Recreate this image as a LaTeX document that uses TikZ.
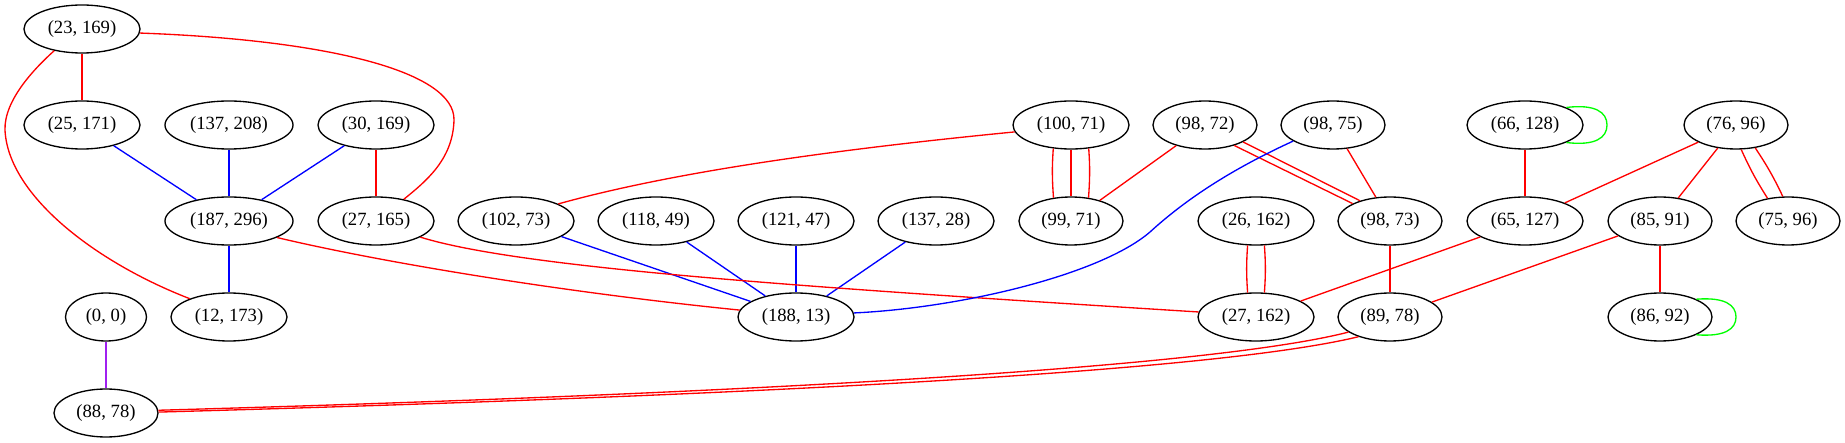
\documentclass[tikz,border=0pt]{standalone}
\usepackage{fontspec}
\setmainfont{Liberation Serif}
\usetikzlibrary{shapes.geometric}
\definecolor{gvred}{RGB}{255,0,0}
\definecolor{gvblue}{RGB}{0,0,255}
\definecolor{gvgreen}{RGB}{0,255,0}
\definecolor{gvpurple}{RGB}{160,32,240}
\begin{document}
\begin{tikzpicture}[x=1pt,y=-1pt,
  nd/.style={draw=black,line width=1.33pt,ellipse,inner sep=0pt,minimum height=48pt,font=\fontsize{18.67}{22}\selectfont},
  wA/.style={nd,minimum width=116pt},
  wB/.style={nd,minimum width=128pt},
  wC/.style={nd,minimum width=104pt},
  wD/.style={nd,minimum width=81pt},
  re/.style={draw=gvred,line width=1.33pt},
  be/.style={draw=gvblue,line width=1.33pt},
  ge/.style={draw=gvgreen,line width=1.33pt},
  pe/.style={draw=gvpurple,line width=1.33pt}]
\useasboundingbox (0,0) rectangle (1845,443);
% nodes
\node[wA] (p23x169) at (82,29) {(23, 169)};
\node[wA] (p25x171) at (82,125) {(25, 171)};
\node[wB] (p137x208) at (229,125) {(137, 208)};
\node[wA] (p30x169) at (376,125) {(30, 169)};
\node[wB] (p187x296) at (229,221) {(187, 296)};
\node[wA] (p27x165) at (376,221) {(27, 165)};
\node[wD] (p0x0) at (106,317) {(0, 0)};
\node[wA] (p12x173) at (229,317) {(12, 173)};
\node[wC] (p88x78) at (106,413) {(88, 78)};
\node[wA] (p102x73) at (516,221) {(102, 73)};
\node[wA] (p118x49) at (656,221) {(118, 49)};
\node[wA] (p121x47) at (796,221) {(121, 47)};
\node[wA] (p137x28) at (936,221) {(137, 28)};
\node[wA] (p188x13) at (796,317) {(188, 13)};
\node[wA] (p100x71) at (1071,125) {(100, 71)};
\node[wC] (p98x72) at (1205,125) {(98, 72)};
\node[wC] (p98x75) at (1333,125) {(98, 75)};
\node[wC] (p99x71) at (1071,221) {(99, 71)};
\node[wA] (p26x162) at (1256,221) {(26, 162)};
\node[wC] (p98x73) at (1390,221) {(98, 73)};
\node[wA] (p27x162) at (1256,317) {(27, 162)};
\node[wC] (p89x78) at (1390,317) {(89, 78)};
\node[wA] (p66x128) at (1525,125) {(66, 128)};
\node[wC] (p76x96) at (1736,125) {(76, 96)};
\node[wA] (p65x127) at (1525,221) {(65, 127)};
\node[wC] (p85x91) at (1660,221) {(85, 91)};
\node[wC] (p75x96) at (1788,221) {(75, 96)};
\node[wC] (p86x92) at (1660,317) {(86, 92)};
% straight edges
\draw[re] (p23x169) -- (p25x171);
\draw[be] (p25x171) -- (p187x296);
\draw[be] (p137x208) -- (p187x296);
\draw[be] (p30x169) -- (p187x296);
\draw[re] (p30x169) -- (p27x165);
\draw[be] (p187x296) -- (p12x173);
\draw[pe] (p0x0) -- (p88x78);
\draw[be] (p102x73) -- (p188x13);
\draw[be] (p118x49) -- (p188x13);
\draw[be] (p121x47) -- (p188x13);
\draw[be] (p137x28) -- (p188x13);
\draw[re] (p98x72) -- (p99x71);
\draw[re] (p98x75) -- (p98x73);
\draw[re] (p98x73) -- (p89x78);
\draw[re] (p66x128) -- (p65x127);
\draw[re] (p76x96) -- (p65x127);
\draw[re] (p76x96) -- (p85x91);
\draw[re] (p65x127) -- (p27x162);
\draw[re] (p85x91) -- (p89x78);
\draw[re] (p85x91) -- (p86x92);
% multi edges
\draw[re] (p100x71.233) to[out=266,in=94] (p99x71.127);
\draw[re] (p100x71) -- (p99x71);
\draw[re] (p100x71.307) to[out=274,in=86] (p99x71.53);
\draw[re] (p98x72.336) -- (p98x73.146);
\draw[re] (p98x72.325) -- (p98x73.155);
\draw[re] (p26x162.251) to[out=266,in=94] (p27x162.109);
\draw[re] (p26x162.289) to[out=274,in=86] (p27x162.71);
\draw[re] (p76x96.282) to[bend right=4] (p75x96.132);
\draw[re] (p76x96.310) to[bend left=4] (p75x96.102);
\draw[re] (p89x78.200) .. controls (1200,370) and (700,395) .. (p88x78.3);
\draw[re] (p89x78.212) .. controls (1205,374) and (700,397) .. (p88x78.1);
% curved edges
\draw[re] (p23x169.-4) .. controls (330,40) and (455,72) .. (454,120) .. controls (453,160) and (425,182) .. (p27x165.38);
\draw[re] (p23x169.218) .. controls (35,68) and (4,100) .. (5,130) .. controls (8,195) and (95,262) .. (p12x173.155);
\draw[re] (p187x296.341) .. controls (380,262) and (560,292) .. (p188x13.173);
\draw[re] (p27x165.340) .. controls (520,268) and (800,287) .. (p27x162.175);
\draw[re] (p102x73.22) .. controls (680,170) and (850,148) .. (p100x71.187);
\draw[be] (p188x13.4) .. controls (960,308) and (1100,275) .. (1150,232) .. controls (1185,200) and (1230,170) .. (p98x75.202);
% self loops
\draw[ge] (p66x128.23) .. controls (1595,104) and (1607,112) .. (1607,125) .. controls (1607,138) and (1595,146) .. (p66x128.-23);
\draw[ge] (p86x92.26) .. controls (1725,297) and (1736,305) .. (1736,317) .. controls (1736,329) and (1725,337) .. (p86x92.-26);
\end{tikzpicture}
\end{document}
